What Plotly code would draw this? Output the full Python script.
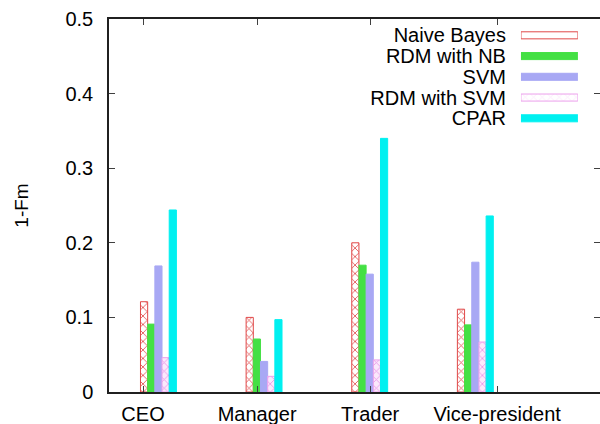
import plotly.graph_objects as go

categories = ["CEO", "Manager", "Trader", "Vice-president"]
series_names = ["Naive Bayes", "RDM with NB", "SVM", "RDM with SVM", "CPAR"]
naive_bayes = [0.121, 0.100, 0.200, 0.111]
rdm_nb = [0.091, 0.071, 0.170, 0.090]
svm = [0.169, 0.041, 0.158, 0.174]
rdm_svm = [0.046, 0.021, 0.043, 0.067]
cpar = [0.244, 0.097, 0.340, 0.236]
y_ticks = [0, 0.1, 0.2, 0.3, 0.4, 0.5]
y_tick_text = ["0", "0.1", "0.2", "0.3", "0.4", "0.5"]

values = [naive_bayes, rdm_nb, svm, rdm_svm, cpar]
fills = ["#ffffff", "#44e044", "#a8a8f4", "#fbe8fb", "#00f0f0"]
fg = ["#e04848", "#44e044", "#a8a8f4", "#e890e8", "#00f0f0"]
shapes_ = ["x", "", "", "x", ""]
lines = ["#e04848", "#44e044", "#a8a8f4", "#eca0ec", "#00f0f0"]

FONT = "Liberation Sans, Arial, sans-serif"
FS = 20

fig = go.Figure()
xs = list(range(len(categories)))
for name, vals, fc, fgc, sh, lc in zip(series_names, values, fills, fg, shapes_, lines):
    fig.add_trace(go.Bar(
        x=xs, y=vals, name=name,
        marker=dict(color=fc, line=dict(color=lc, width=1),
                    pattern=dict(shape=sh, fgcolor=fgc, bgcolor=fc, size=6, solidity=0.25, fillmode="replace")),
        xaxis="x", yaxis="y", showlegend=False,
    ))

# legend drawn as a small auxiliary bar panel (swatches) with its tick labels as text
fig.add_trace(go.Bar(
    y=series_names, x=[1] * len(series_names), orientation="h",
    marker=dict(color=fills, line=dict(color=lines, width=1),
                pattern=dict(shape=shapes_, fgcolor=fg, bgcolor=fills, size=6, solidity=0.25, fillmode="replace")),
    xaxis="x2", yaxis="y2", showlegend=False, hoverinfo="skip",
))

tick_pos = [-0.146, 0.934, 2.004, 3.206]

fig.update_layout(
    width=600, height=424,
    margin=dict(l=109, r=0, t=19, b=32, autoexpand=False),
    paper_bgcolor="white", plot_bgcolor="white",
    barmode="group", bargap=0.66, bargroupgap=0,
    font=dict(family=FONT, size=FS, color="black"),
    showlegend=False,
    xaxis=dict(
        range=[-0.468, 4.18], tickmode="array", tickvals=tick_pos, ticktext=categories,
        showline=True, linecolor="#202020", linewidth=1.5, mirror="allticks",
        ticks="inside", ticklen=6, tickcolor="#404040", showgrid=False, zeroline=False,
        ticklabelstandoff=3, automargin=False,
    ),
    yaxis=dict(
        range=[0, 0.5], tickmode="array", tickvals=y_ticks, ticktext=y_tick_text,
        showline=True, linecolor="#202020", linewidth=1.5, mirror="allticks",
        ticks="inside", ticklen=6, tickcolor="#404040", showgrid=False, zeroline=False,
        ticklabelstandoff=10, automargin=False,
        title=dict(text="1-Fm", standoff=32, font=dict(size=19)),
    ),
    xaxis2=dict(domain=[0.839, 0.955], range=[0, 1], anchor="y2", visible=False, automargin=False),
    yaxis2=dict(domain=[0.706, 0.984], anchor="x2", autorange="reversed",
                tickmode="array", tickvals=series_names, ticktext=series_names,
                showline=False, ticks="", showgrid=False, zeroline=False,
                ticklabelstandoff=14, tickfont=dict(size=FS), automargin=False),
)

fig.write_html(
    "out.html",
    config={"displayModeBar": False},
    post_script="document.body.style.margin='0';document.body.style.padding='0';document.body.style.overflow='hidden';",
)
